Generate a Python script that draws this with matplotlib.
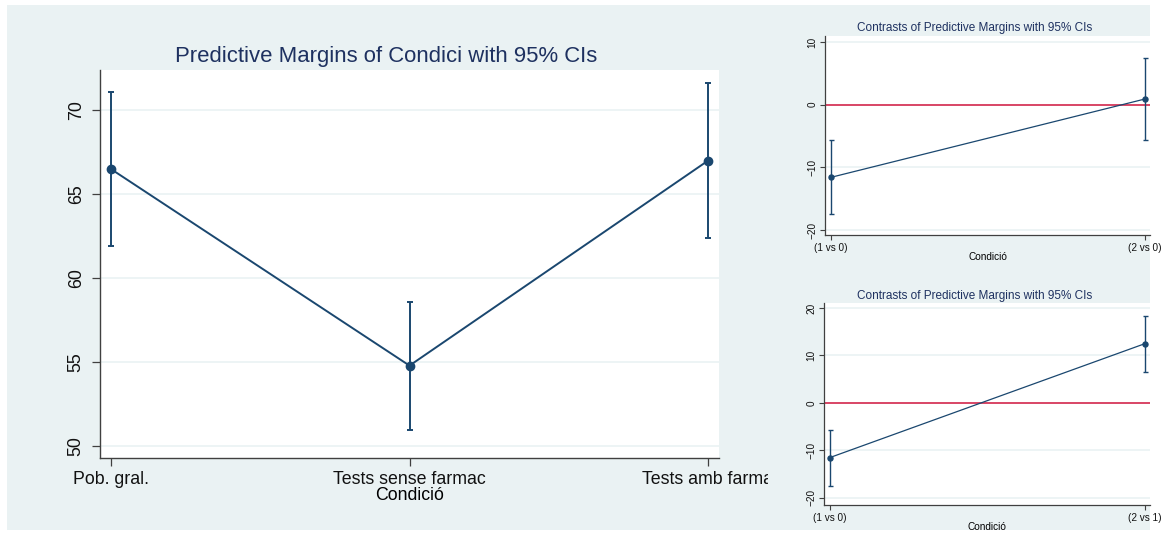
import numpy as np
import matplotlib
matplotlib.use('Agg')
import matplotlib.pyplot as plt
from matplotlib import patches
from matplotlib.transforms import Bbox, TransformedBbox

plt.rcParams['font.family'] = ['Liberation Sans', 'DejaVu Sans']

# predictive margins by condition
conditions = ['Pob. gral.', 'Tests sense farmac', 'Tests amb farma']
margin = [66.5, 54.8, 67.0]
margin_lo = [61.9, 50.95, 62.4]
margin_hi = [71.1, 58.6, 71.65]

# contrasts against condition 0
contrast0_labels = ['(1 vs 0)', '(2 vs 0)']
contrast0 = [-11.6, 0.9]
contrast0_lo = [-17.5, -5.6]
contrast0_hi = [-5.6, 7.4]

# contrasts (1 vs 0) and (2 vs 1)
contrast1_labels = ['(1 vs 0)', '(2 vs 1)']
contrast1 = [-11.5, 12.5]
contrast1_lo = [-17.5, 6.6]
contrast1_hi = [-5.7, 18.4]

W, H = 1161, 535
NAVY = '#1a476f'
BG = '#eaf2f3'
TITLE = '#1e3160'
AXC = '#404040'
REF_RED = '#d4173f'

fig = plt.figure(figsize=(W / 100, H / 100), dpi=100)
fig.patch.set_facecolor('white')


def px_rect(left, top, right, bottom):
    return [left / W, 1 - bottom / H, (right - left) / W, (bottom - top) / H]


fig.patches.append(patches.Rectangle((7 / W, 1 - 530 / H), (1150 - 7) / W, (530 - 5) / H,
                                     transform=fig.transFigure, facecolor=BG,
                                     edgecolor='none', zorder=-5))


def style_axes(ax, fs, ticklen, lw):
    ax.set_facecolor('white')
    for side in ['top', 'right']:
        ax.spines[side].set_visible(False)
    for side in ['left', 'bottom']:
        ax.spines[side].set_color(AXC)
        ax.spines[side].set_linewidth(lw)
    ax.tick_params(axis='both', direction='out', length=ticklen, width=lw * 0.9,
                   color=AXC, labelsize=fs, labelcolor='#111111')
    ax.grid(axis='y', color=BG, linewidth=1.2)
    ax.set_axisbelow(True)
    for lab in ax.get_yticklabels():
        lab.set_rotation(90)
        lab.set_va('center')


# main graph
ax = fig.add_axes(px_rect(100, 70, 719, 458))
x = np.arange(len(conditions))
m = np.array(margin)
err = [m - np.array(margin_lo), np.array(margin_hi) - m]
ax.errorbar(x, m, yerr=err, fmt='none', ecolor=NAVY, elinewidth=1.4, capsize=2.4,
            capthick=1.4, zorder=3)
ax.plot(x, m, '-o', color=NAVY, lw=1.4, markersize=6, zorder=4)
ax.set_xlim(-0.037, 2.037)
ax.set_ylim(49.3, 72.4)
ax.set_yticks([50, 55, 60, 65, 70])
ax.set_xticks(x, conditions)
style_axes(ax, 12.8, 6, 1.0)
ax.tick_params(axis='y', pad=5)
ax.tick_params(axis='x', pad=3)
ax.set_xlabel('Condició', fontsize=12.8, labelpad=0)
clip = TransformedBbox(Bbox.from_extents(0, 0, 768 / W, 1), fig.transFigure)
for lab in ax.get_xticklabels():
    lab.set_clip_box(clip)
    lab.set_clip_on(True)
fig.text(386 / W, 1 - 57 / H, 'Predictive Margins of Condici with 95% CIs',
         ha='center', va='center', fontsize=15.9, color=TITLE)


def contrast_plot(rect, labels, vals, lo, hi, ylim, yticks, title_y):
    cax = fig.add_axes(rect)
    cx = np.array([1, 2])
    v = np.array(vals)
    cerr = [v - np.array(lo), np.array(hi) - v]
    cax.axhline(0, color=REF_RED, lw=1.1, zorder=2)
    cax.errorbar(cx, v, yerr=cerr, fmt='none', ecolor=NAVY, elinewidth=1.0,
                 capsize=1.8, capthick=1.0, zorder=3)
    cax.plot(cx, v, '-o', color=NAVY, lw=0.9, markersize=3.6, zorder=4)
    cax.set_xlim(0.981, 2.016)
    cax.set_ylim(*ylim)
    cax.set_yticks(yticks)
    cax.set_xticks(cx, labels)
    style_axes(cax, 7.2, 3.5, 0.9)
    cax.tick_params(axis='both', pad=2)
    cax.set_xlabel('Condició', fontsize=7.2, labelpad=-0.5)
    fig.text(975 / W, 1 - title_y / H, 'Contrasts of Predictive Margins with 95% CIs',
             ha='center', va='center', fontsize=8.5, color=TITLE)
    return cax


contrast_plot(px_rect(825, 36, 1150, 235), contrast0_labels, contrast0,
              contrast0_lo, contrast0_hi, (-20.8, 10.95), [-20, -10, 0, 10], 28)
contrast_plot(px_rect(824, 303, 1150, 505), contrast1_labels, contrast1,
              contrast1_lo, contrast1_hi, (-21.5, 21.06), [-20, -10, 0, 10, 20], 296)

fig.savefig('out.png', dpi=100)
